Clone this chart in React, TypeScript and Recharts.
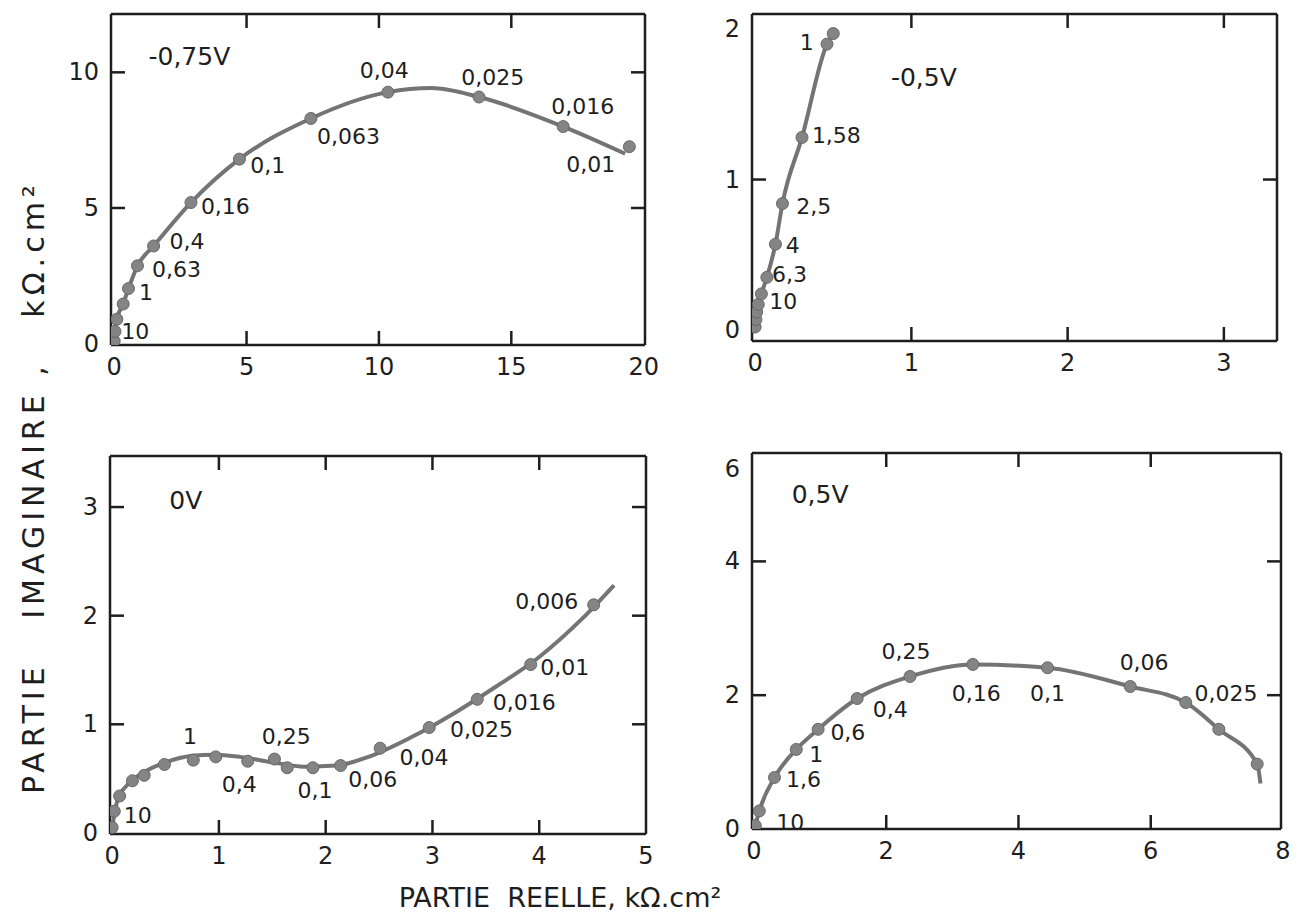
import React from 'react';
import { ScatterChart, Scatter, XAxis, YAxis } from 'recharts';

const FONT = '"DejaVu Sans", "Liberation Sans", Arial, sans-serif';
const INK = '#1e1e1e';
const CURVE = '#747474';
const DOT = '#848484';

// ---- -0,75 V ----
const p1Dots = [
  { x: 0.0, y: 0.1 }, { x: 0.03, y: 0.45 }, { x: 0.1, y: 0.9 }, { x: 0.34, y: 1.46 },
  { x: 0.54, y: 2.03 }, { x: 0.88, y: 2.87 }, { x: 1.49, y: 3.6 }, { x: 2.9, y: 5.2 },
  { x: 4.73, y: 6.8 }, { x: 7.43, y: 8.3 }, { x: 10.34, y: 9.27 }, { x: 13.78, y: 9.09 },
  { x: 16.96, y: 8.0 }, { x: 19.46, y: 7.26 },
];
const p1Curve = [
  { x: 0.0, y: 0.1 }, { x: 0.03, y: 0.45 }, { x: 0.1, y: 0.9 }, { x: 0.34, y: 1.46 },
  { x: 0.54, y: 2.03 }, { x: 0.88, y: 2.87 }, { x: 1.49, y: 3.6 }, { x: 2.9, y: 5.2 },
  { x: 4.73, y: 6.8 }, { x: 7.43, y: 8.3 }, { x: 10.34, y: 9.27 }, { x: 12.0, y: 9.42 },
  { x: 13.78, y: 9.09 }, { x: 16.96, y: 8.0 }, { x: 19.3, y: 7.0 },
];
const p1Labels = [
  { x: 2.84, y: 10.6, t: '-0,75V' },
  { x: 10.2, y: 10.05, t: '0,04' }, { x: 14.3, y: 9.8, t: '0,025' },
  { x: 17.7, y: 8.75, t: '0,016' }, { x: 8.85, y: 7.65, t: '0,063' },
  { x: 5.8, y: 6.55, t: '0,1' }, { x: 4.2, y: 5.05, t: '0,16' },
  { x: 2.75, y: 3.78, t: '0,4' }, { x: 2.35, y: 2.75, t: '0,63' },
  { x: 1.2, y: 1.9, t: '1' }, { x: 0.8, y: 0.45, t: '10' },
  { x: 18.0, y: 6.6, t: '0,01' },
];
const p1XTicks = [0, 5, 10, 15, 20];
const p1YTicks = [0, 5, 10];
const p1XMarks = [5, 10, 15];
const p1YMarks = [5, 10];

// ---- -0,5 V ----
const p2Dots = [
  { x: 0.0, y: 0.02 }, { x: 0.005, y: 0.07 }, { x: 0.01, y: 0.12 }, { x: 0.02, y: 0.17 },
  { x: 0.04, y: 0.24 }, { x: 0.075, y: 0.35 }, { x: 0.13, y: 0.57 }, { x: 0.175, y: 0.84 },
  { x: 0.3, y: 1.28 }, { x: 0.46, y: 1.9 }, { x: 0.5, y: 1.97 },
];
const p2Labels = [
  { x: 1.08, y: 1.68, t: '-0,5V' },
  { x: 0.33, y: 1.91, t: '1' }, { x: 0.52, y: 1.29, t: '1,58' },
  { x: 0.375, y: 0.82, t: '2,5' }, { x: 0.24, y: 0.56, t: '4' },
  { x: 0.22, y: 0.37, t: '6,3' }, { x: 0.18, y: 0.19, t: '10' },
];
const p2XTicks = [0, 1, 2, 3];
const p2YTicks = [0, 1, 2];
const p2XMarks = [1, 2, 3];
const p2YMarks = [1];

// ---- 0 V ----
const p3Dots = [
  { x: 0.0, y: 0.05 }, { x: 0.02, y: 0.2 }, { x: 0.07, y: 0.34 }, { x: 0.19, y: 0.48 },
  { x: 0.3, y: 0.53 }, { x: 0.49, y: 0.63 }, { x: 0.76, y: 0.67 }, { x: 0.97, y: 0.7 },
  { x: 1.27, y: 0.66 }, { x: 1.52, y: 0.68 }, { x: 1.64, y: 0.6 }, { x: 1.88, y: 0.6 },
  { x: 2.14, y: 0.62 }, { x: 2.51, y: 0.78 }, { x: 2.97, y: 0.97 }, { x: 3.42, y: 1.23 },
  { x: 3.92, y: 1.55 }, { x: 4.51, y: 2.1 },
];
const p3Curve = [
  { x: 0.0, y: 0.05 }, { x: 0.05, y: 0.3 }, { x: 0.15, y: 0.45 }, { x: 0.3, y: 0.56 },
  { x: 0.5, y: 0.65 }, { x: 0.75, y: 0.71 }, { x: 0.95, y: 0.72 }, { x: 1.2, y: 0.7 },
  { x: 1.5, y: 0.65 }, { x: 1.8, y: 0.61 }, { x: 2.1, y: 0.62 }, { x: 2.4, y: 0.7 },
  { x: 2.8, y: 0.88 }, { x: 3.2, y: 1.1 }, { x: 3.6, y: 1.35 }, { x: 4.0, y: 1.62 },
  { x: 4.4, y: 1.97 }, { x: 4.7, y: 2.28 },
];
const p3Labels = [
  { x: 0.69, y: 3.06, t: '0V' },
  { x: 0.73, y: 0.89, t: '1' }, { x: 1.63, y: 0.89, t: '0,25' },
  { x: 1.19, y: 0.45, t: '0,4' }, { x: 1.9, y: 0.39, t: '0,1' },
  { x: 2.44, y: 0.49, t: '0,06' }, { x: 2.92, y: 0.69, t: '0,04' },
  { x: 3.46, y: 0.95, t: '0,025' }, { x: 3.86, y: 1.2, t: '0,016' },
  { x: 4.24, y: 1.52, t: '0,01' }, { x: 4.07, y: 2.13, t: '0,006' },
  { x: 0.24, y: 0.16, t: '10' },
];
const p3XTicks = [0, 1, 2, 3, 4, 5];
const p3YTicks = [0, 1, 2, 3];
const p3XMarks = [1, 2, 3, 4];
const p3YMarks = [1, 2, 3];

// ---- 0,5 V ----
const p4Dots = [
  { x: 0.02, y: 0.05 }, { x: 0.08, y: 0.27 }, { x: 0.31, y: 0.77 }, { x: 0.64, y: 1.19 },
  { x: 0.97, y: 1.49 }, { x: 1.56, y: 1.95 }, { x: 2.36, y: 2.28 }, { x: 3.31, y: 2.46 },
  { x: 4.44, y: 2.41 }, { x: 5.69, y: 2.13 }, { x: 6.53, y: 1.89 }, { x: 7.03, y: 1.49 },
  { x: 7.61, y: 0.97 },
];
const p4Curve = [...p4Dots, { x: 7.66, y: 0.68 }];
const p4Labels = [
  { x: 1.0, y: 5.0, t: '0,5V' },
  { x: 2.3, y: 2.66, t: '0,25' }, { x: 3.36, y: 2.03, t: '0,16' },
  { x: 4.44, y: 2.03, t: '0,1' }, { x: 5.9, y: 2.49, t: '0,06' },
  { x: 7.14, y: 2.03, t: '0,025' }, { x: 2.06, y: 1.79, t: '0,4' },
  { x: 1.42, y: 1.44, t: '0,6' }, { x: 0.94, y: 1.11, t: '1' },
  { x: 0.75, y: 0.74, t: '1,6' }, { x: 0.55, y: 0.1, t: '10' },
];
const p4XTicks = [0, 2, 4, 6, 8];
const p4YTicks = [0, 2, 4, 5.38];
const p4YTickText = ['0', '2', '4', '6'];
const p4XMarks = [2, 4, 6];
const p4YMarks = [2, 4];

const MARK = 14;
const LINE_W = 2.5;

function tickText(v: number, ticks: number[], text?: string[]) {
  if (!text) return String(v);
  const i = ticks.indexOf(v);
  return i >= 0 ? text[i] : String(v);
}

function Panel(props: any) {
  const { box, xDomain, yDomain, xTicks, yTicks, yTickText, xMarks, yMarks, curve, dots, labels } = props;
  const W = box.R - box.L;
  const H = box.B - box.T;
  const padL = 60, padT = 15, padR = 20, padB = 45;
  const axisLine = { stroke: INK, strokeWidth: LINE_W };
  const has = (arr: number[], v: any) => arr.includes(Number(v));

  const bottomTick = (p: any) => (
    <g>
      {has(xMarks, p.payload.value) && (
        <line x1={p.x} x2={p.x} y1={p.y} y2={p.y - MARK} stroke={INK} strokeWidth={LINE_W} />
      )}
      <text x={p.x} y={p.y + 30} textAnchor="middle" fontSize={24} fontFamily={FONT} fill={INK}>
        {String(p.payload.value)}
      </text>
    </g>
  );
  const topTick = (p: any) =>
    has(xMarks, p.payload.value) ? (
      <line x1={p.x} x2={p.x} y1={p.y} y2={p.y + MARK} stroke={INK} strokeWidth={LINE_W} />
    ) : (
      <g />
    );
  const leftTick = (p: any) => (
    <g>
      {has(yMarks, p.payload.value) && (
        <line x1={p.x} x2={p.x + MARK} y1={p.y} y2={p.y} stroke={INK} strokeWidth={LINE_W} />
      )}
      <text x={p.x - 12} y={p.y} textAnchor="end" dominantBaseline="central" fontSize={24} fontFamily={FONT} fill={INK}>
        {tickText(Number(p.payload.value), yTicks, yTickText)}
      </text>
    </g>
  );
  const rightTick = (p: any) =>
    has(yMarks, p.payload.value) ? (
      <line x1={p.x} x2={p.x - MARK} y1={p.y} y2={p.y} stroke={INK} strokeWidth={LINE_W} />
    ) : (
      <g />
    );

  return (
    <div style={{ position: 'absolute', left: box.L - padL, top: box.T - padT }}>
      <ScatterChart
        width={W + padL + padR}
        height={H + padT + padB}
        margin={{ top: padT, right: padR, bottom: 0, left: 0 }}
      >
        <XAxis xAxisId="b" type="number" dataKey="x" orientation="bottom" domain={xDomain} ticks={xTicks}
          allowDataOverflow interval={0} height={padB} tickSize={0} tickMargin={0} tickLine={false}
          axisLine={axisLine} tick={bottomTick} />
        <XAxis xAxisId="t" type="number" dataKey="x" orientation="top" domain={xDomain} ticks={xMarks}
          allowDataOverflow interval={0} height={1} tickSize={0} tickMargin={0} tickLine={false}
          axisLine={axisLine} tick={topTick} />
        <YAxis yAxisId="l" type="number" dataKey="y" orientation="left" domain={yDomain} ticks={yTicks}
          allowDataOverflow interval={0} width={padL} tickSize={0} tickMargin={0} tickLine={false}
          axisLine={axisLine} tick={leftTick} />
        <YAxis yAxisId="r" type="number" dataKey="y" orientation="right" domain={yDomain} ticks={yMarks}
          allowDataOverflow interval={0} width={1} tickSize={0} tickMargin={0} tickLine={false}
          axisLine={axisLine} tick={rightTick} />
        <Scatter xAxisId="t" yAxisId="r" data={dots} shape={() => <g />} isAnimationActive={false} />
        <Scatter xAxisId="b" yAxisId="l" data={curve} line={{ stroke: CURVE, strokeWidth: 4 }}
          lineJointType="monotoneX" shape={() => <g />} isAnimationActive={false} />
        <Scatter xAxisId="b" yAxisId="l" data={dots} isAnimationActive={false}
          shape={(s: any) => <circle cx={s.cx} cy={s.cy} r={6} fill={DOT} stroke="#686868" strokeWidth={1} />} />
        <Scatter xAxisId="b" yAxisId="l" data={labels} isAnimationActive={false}
          shape={(s: any) => (
            <text x={s.cx} y={s.cy} textAnchor="middle" dominantBaseline="central"
              fontSize={/V$/.test(s.payload.t) ? 25 : 22} fontFamily={FONT} fill={INK}>
              {s.payload.t}
            </text>
          )} />
      </ScatterChart>
    </div>
  );
}

export default function App() {
  return (
    <div style={{ position: 'absolute', left: 0, top: 0, width: 1298, height: 923, background: '#fff', overflow: 'hidden' }}>
      <Panel box={{ L: 111, T: 13, R: 646, B: 345 }} xDomain={[-0.12, 20.05]} yDomain={[-0.05, 12.15]}
        xTicks={p1XTicks} yTicks={p1YTicks} xMarks={p1XMarks} yMarks={p1YMarks}
        curve={p1Curve} dots={p1Dots} labels={p1Labels} />
      <Panel box={{ L: 752, T: 13, R: 1278, B: 341 }} xDomain={[-0.02, 3.34]} yDomain={[-0.073, 2.1]}
        xTicks={p2XTicks} yTicks={p2YTicks} xMarks={p2XMarks} yMarks={p2YMarks}
        curve={p2Dots} dots={p2Dots} labels={p2Labels} />
      <Panel box={{ L: 110, T: 455, R: 647, B: 834 }} xDomain={[-0.02, 5.0]} yDomain={[-0.01, 3.47]}
        xTicks={p3XTicks} yTicks={p3YTicks} xMarks={p3XMarks} yMarks={p3YMarks}
        curve={p3Curve} dots={p3Dots} labels={p3Labels} />
      <Panel box={{ L: 752, T: 452, R: 1282, B: 829 }} xDomain={[-0.03, 7.97]} yDomain={[0, 5.62]}
        xTicks={p4XTicks} yTicks={p4YTicks} yTickText={p4YTickText} xMarks={p4XMarks} yMarks={p4YMarks}
        curve={p4Curve} dots={p4Dots} labels={p4Labels} />
      <div style={{ position: 'absolute', left: 33, top: 487, transform: 'translate(-50%, -50%) rotate(-90deg)',
        whiteSpace: 'pre', fontFamily: FONT, fontSize: 30, color: INK, letterSpacing: 5 }}>
        {'PARTIE   IMAGINAIRE ,   kΩ.cm²'}
      </div>
      <div style={{ position: 'absolute', left: 560, top: 897, transform: 'translate(-50%, -50%)',
        whiteSpace: 'pre', fontFamily: FONT, fontSize: 27, color: INK }}>
        {'PARTIE  REELLE, kΩ.cm²'}
      </div>
    </div>
  );
}
